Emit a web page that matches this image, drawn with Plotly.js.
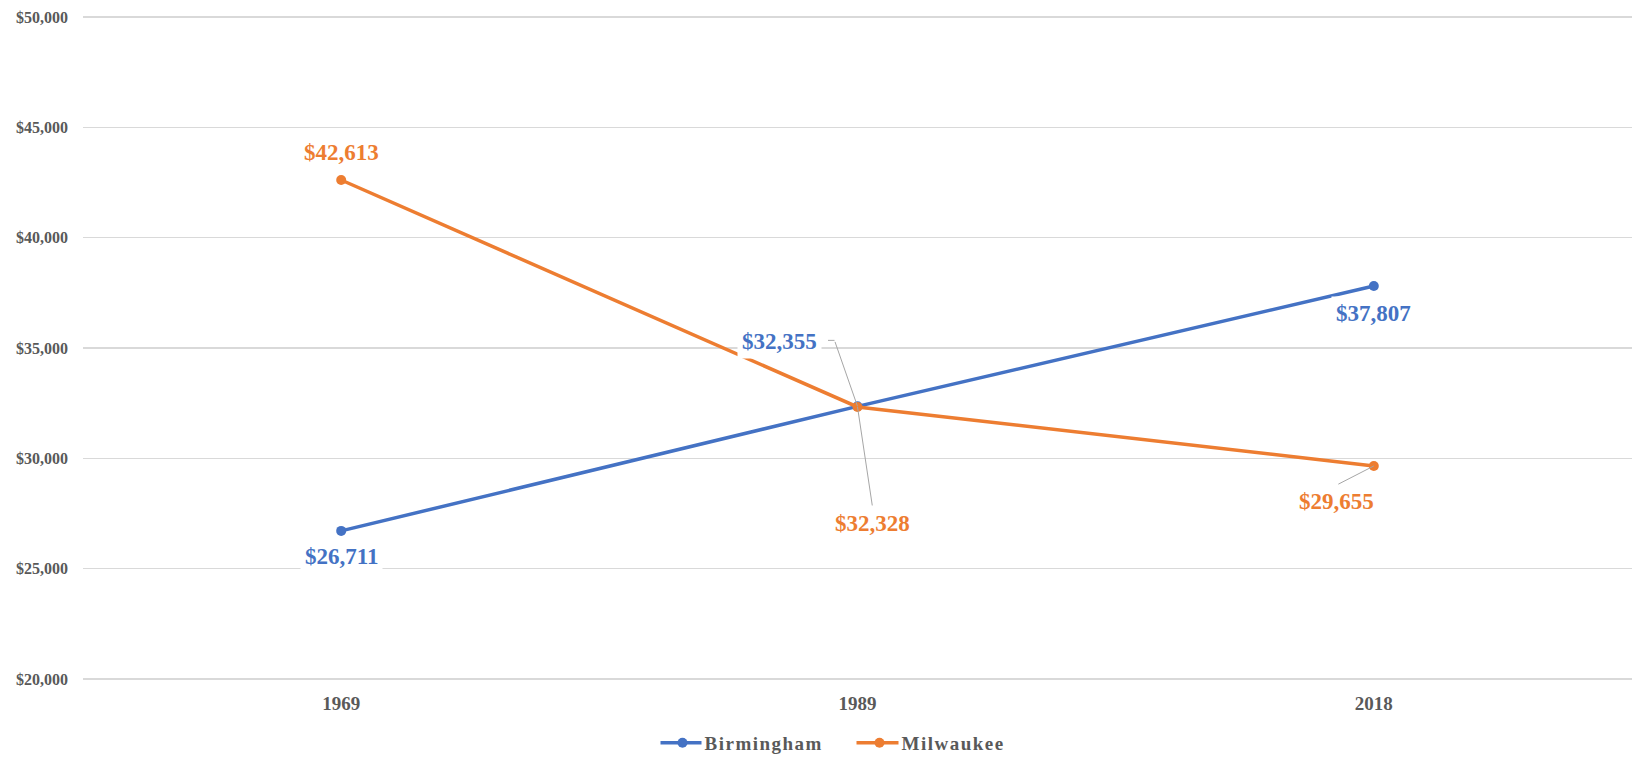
<!DOCTYPE html>
<html>
<head>
<meta charset="utf-8">
<script src="https://cdn.plot.ly/plotly-3.0.1.min.js"></script>
<style>
  html, body { margin: 0; padding: 0; background: #fff; }
  #chart { width: 1632px; height: 757px; }
  .legendtext { letter-spacing: 1.5px; }
</style>
</head>
<body>
<div id="chart"></div>
<script>
// ---- data ----
const years = ['1969', '1989', '2018'];
const birmingham = [26711, 32355, 37807];
const milwaukee = [42613, 32328, 29655];
const seriesNames = ['Birmingham', 'Milwaukee'];
const yTickVals = [20000, 25000, 30000, 35000, 40000, 45000, 50000];

// ---- styling ----
const colors = ['#4472C4', '#ED7D31'];
const FONT = '"Liberation Serif", "Times New Roman", serif';
const GRAY = '#595959';

// label placement (pixel offsets from each point: label centre, optional leader tail, optional nub)
const labelPlacement = [
  [ {dx: 0, dy: 26}, {dx: -78, dy: -65, tail: [-23, -66], nub: 8}, {dx: 0, dy: 27} ],
  [ {dx: 0, dy: -28}, {dx: 15, dy: 117, tail: [15, 100]}, {dx: -37, dy: 36, tail: [-37, 19]} ]
];

const allValues = [birmingham, milwaukee];
const fmt = v => '$' + v.toLocaleString('en-US');

const traces = allValues.map((vals, s) => ({
  type: 'scatter',
  mode: 'lines+markers',
  name: seriesNames[s],
  x: years,
  y: vals,
  line: {color: colors[s], width: 3.5},
  marker: {color: colors[s], size: 10, symbol: 'circle'},
  hoverinfo: 'x+y+name'
}));

const annotations = [];
allValues.forEach((vals, s) => {
  vals.forEach((v, i) => {
    const p = labelPlacement[s][i];
    // category axis: position by category index
    annotations.push({
      x: i, y: v, xref: 'x', yref: 'y',
      text: fmt(v),
      showarrow: false,
      xshift: p.dx, yshift: -p.dy,
      xanchor: 'center', yanchor: 'middle',
      font: {family: FONT, size: 23, color: colors[s], weight: 'bold'},
      bgcolor: '#ffffff', borderpad: 4
    });
    if (p.tail) {
      annotations.push({
        x: i, y: v, xref: 'x', yref: 'y',
        text: '', showarrow: true, arrowhead: 0, arrowwidth: 1, arrowcolor: '#A6A6A6',
        ax: p.tail[0], ay: p.tail[1], standoff: 0
      });
      if (p.nub) {
        annotations.push({
          x: i, y: v, xref: 'x', yref: 'y',
          text: '', showarrow: true, arrowhead: 0, arrowwidth: 1, arrowcolor: '#A6A6A6',
          xshift: p.tail[0], yshift: -p.tail[1],
          ax: -p.nub, ay: 0, standoff: 0
        });
      }
    }
  });
});

const layout = {
  width: 1632, height: 757,
  margin: {l: 83, r: 0, t: 15, b: 76, pad: 0, autoexpand: false},
  paper_bgcolor: '#ffffff', plot_bgcolor: '#ffffff',
  showlegend: true,
  legend: {
    orientation: 'h', x: 0.5, xanchor: 'center', y: -0.093, yanchor: 'middle',
    font: {family: FONT, size: 19, color: GRAY, weight: 'bold'},
    itemwidth: 34, entrywidthmode: 'pixels', entrywidth: 148
  },
  xaxis: {
    type: 'category', categoryorder: 'array', categoryarray: years,
    range: [-0.5, 2.5], showgrid: false, zeroline: false, showline: false,
    ticks: '', ticklabelstandoff: 9,
    tickfont: {family: FONT, size: 19, color: GRAY, weight: 'bold'}
  },
  yaxis: {
    range: [19909, 50091], tickvals: yTickVals,
    tickformat: '$,d',
    showgrid: true, gridcolor: '#D9D9D9', gridwidth: 1.3,
    zeroline: false, showline: false, ticks: '', ticklabelstandoff: 14,
    tickfont: {family: FONT, size: 16, color: GRAY, weight: 'bold'}
  },
  annotations: annotations
};

Plotly.newPlot('chart', traces, layout, {displayModeBar: false, staticPlot: true}).then(gd => {
  // lengthen the legend line samples (centred on the marker)
  gd.querySelectorAll('.legendlines path').forEach(p => p.setAttribute('d', 'M-1,0h42'));
});
</script>
</body>
</html>
